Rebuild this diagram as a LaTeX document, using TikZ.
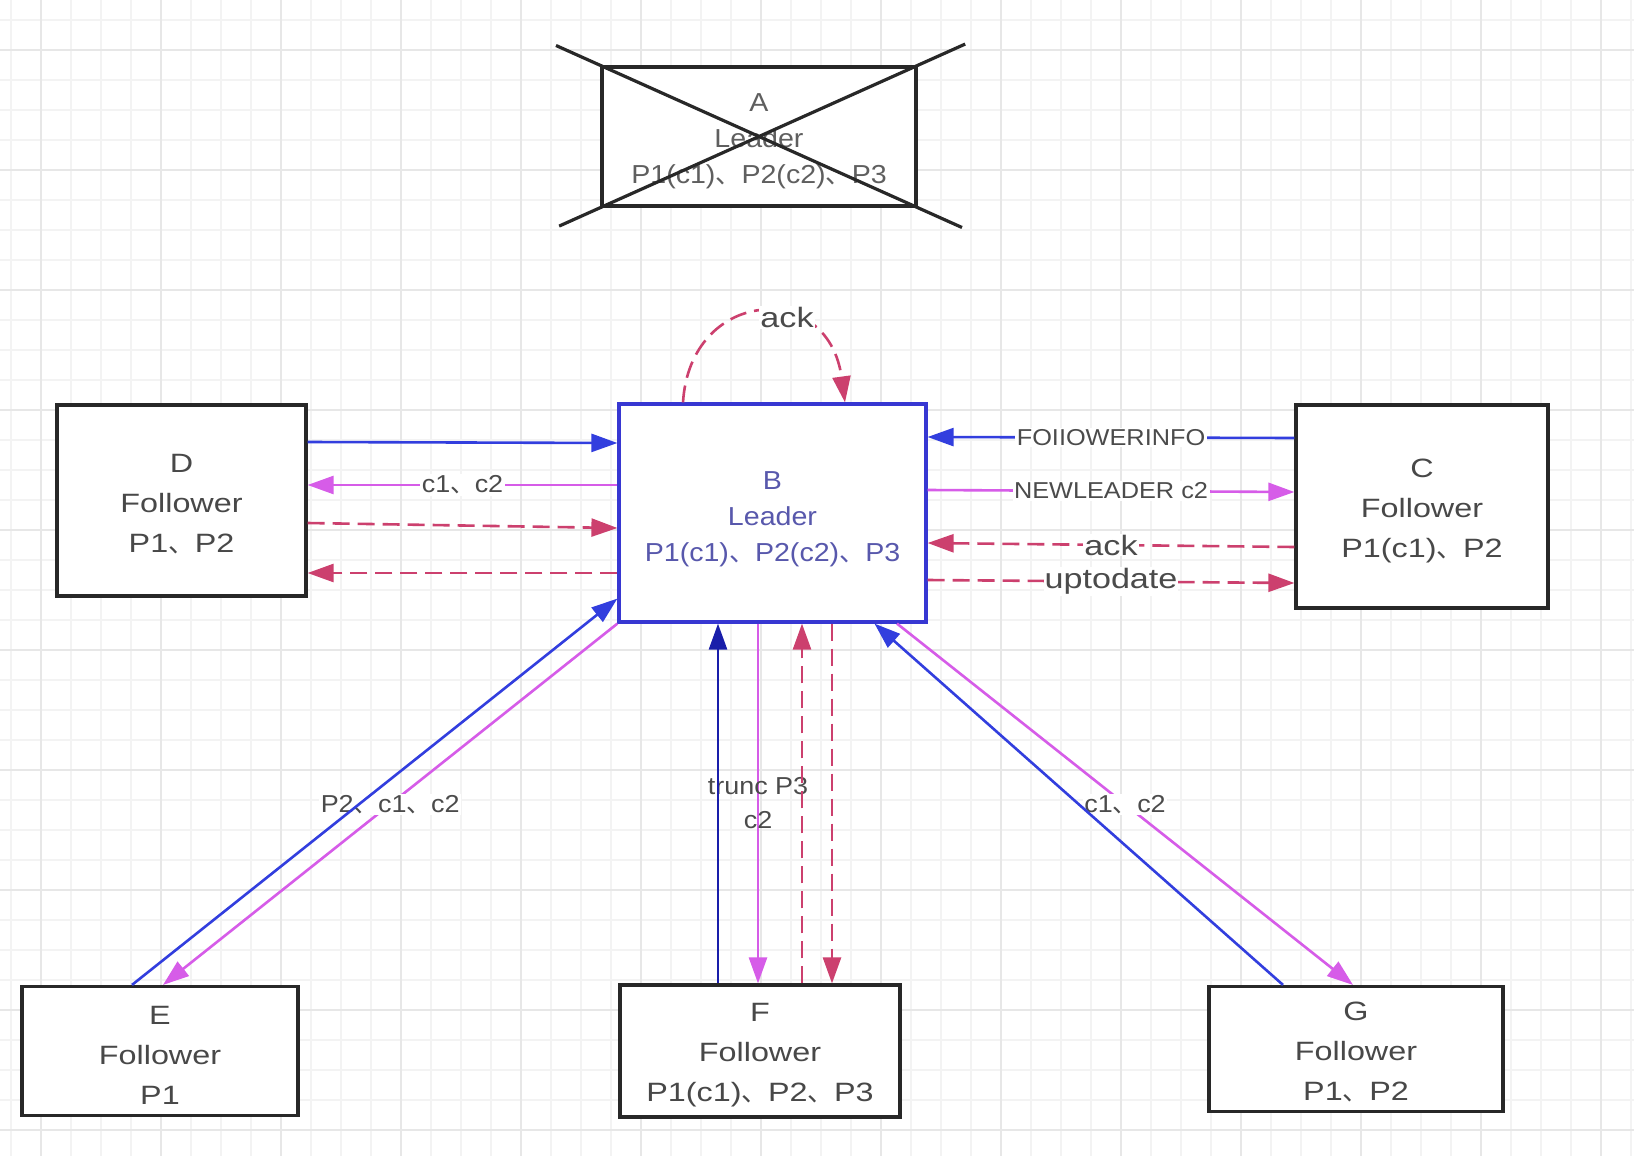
\documentclass[tikz,border=0pt]{standalone}
\usepackage{fontspec}
\setmainfont{Liberation Sans}[FakeStretch=1.1]
\newfontfamily\widefont{Liberation Sans}[FakeStretch=1.22]
\newfontfamily\cjk{Noto Sans CJK SC}
\newcommand{\dn}{{\cjk 、}}
\newcommand{\topstrut}[1]{\rule{0pt}{#1}}
\usetikzlibrary{arrows.meta,calc}
\definecolor{gminor}{RGB}{243,243,243}
\definecolor{gmajor}{RGB}{231,231,231}
\definecolor{boxc}{RGB}{40,40,40}
\definecolor{txtc}{RGB}{72,72,72}
\definecolor{labc}{RGB}{75,75,75}
\definecolor{atxt}{RGB}{95,95,95}
\definecolor{blueA}{RGB}{50,62,222}
\definecolor{navyA}{RGB}{25,30,170}
\definecolor{magC}{RGB}{214,92,232}
\definecolor{redC}{RGB}{204,64,110}
\definecolor{bborder}{RGB}{55,55,210}
\definecolor{btxt}{RGB}{88,88,172}
\tikzset{
  box/.style={draw=boxc, line width=3.2pt, fill=white, text=txtc, align=center,
    inner sep=0pt, font=\widefont\fontsize{26.5}{40}\selectfont},
  lbox/.style={box, font=\fontsize{26}{36}\selectfont},
  elab/.style={fill=white, inner sep=1.5pt, text=labc, align=center,
    font=\fontsize{24.5}{34}\selectfont},
  slab/.style={elab, font=\fontsize{23}{33}\selectfont},
  blab/.style={fill=white, inner sep=1pt, text=labc, font=\widefont\fontsize{28}{32}\selectfont},
  tip/.style={-{Triangle[length=26pt,width=18pt]}},
  solidb/.style={tip, draw=blueA, line width=2.6pt},
  solidn/.style={tip, draw=navyA, line width=2.6pt},
  solidm/.style={tip, draw=magC, line width=2.6pt},
  dashr/.style={tip, draw=redC, line width=2.6pt, dash pattern=on 17pt off 8pt},
  gridmin/.style={draw=gminor, line width=1.2pt},
  gridmaj/.style={draw=gmajor, line width=1.4pt},
}
\begin{document}
\begin{tikzpicture}[x=1pt,y=-1pt]
\useasboundingbox (0,0) rectangle (1634,1156);
\fill[white] (0,0) rectangle (1634,1156);
% grid
\foreach \x in {11,41,...,1631} {\draw[gridmin] (\x,0) -- (\x,1156);}
\foreach \y in {20,50,...,1150} {\draw[gridmin] (0,\y) -- (1634,\y);}
\foreach \x in {41,161,...,1601} {\draw[gridmaj] (\x,0) -- (\x,1156);}
\foreach \y in {50,170,...,1130} {\draw[gridmaj] (0,\y) -- (1634,\y);}

% nodes
\node[lbox, text=atxt, minimum width=314pt, minimum height=139pt] (A) at (759,136.5)
  {\topstrut{27pt}A\\Leader\\P1(c1)\dn P2(c2)\dn P3};
\node[lbox, draw=bborder, text=btxt, minimum width=307pt, minimum height=218pt] (B) at (772.5,513)
  {\topstrut{30pt}B\\Leader\\P1(c1)\dn P2(c2)\dn P3};
\node[box, minimum width=252pt, minimum height=203pt] (C) at (1422,506.5)
  {\topstrut{28pt}C\\Follower\\P1(c1)\dn P2};
\node[box, minimum width=249pt, minimum height=191pt] (D) at (181.5,500.5)
  {\topstrut{26pt}D\\Follower\\P1\dn P2};
\node[box, minimum width=276pt, minimum height=129pt] (E) at (160,1051)
  {\topstrut{27pt}E\\Follower\\P1};
\node[box, minimum width=280pt, minimum height=132pt] (F) at (760,1051)
  {\topstrut{27pt}F\\Follower\\P1(c1)\dn P2\dn P3};
\node[box, minimum width=294pt, minimum height=125pt] (G) at (1356,1049)
  {\topstrut{24pt}G\\Follower\\P1\dn P2};

% crossing out A
\draw[draw=boxc, line width=3.2pt] ($(A.north west)!-0.14!(A.south east)$) -- ($(A.north west)!1.14!(A.south east)$);
\draw[draw=boxc, line width=3.2pt] ($(A.south west)!-0.13!(A.north east)$) -- ($(A.south west)!1.15!(A.north east)$);

% self loop on B
\draw[dashr] ([xshift=-89.5pt]B.north) .. controls +(7,-114) and +(-17,-124) .. ([xshift=72.5pt]B.north)
  node[blab, pos=0.62] {ack};

% D side
\draw[solidm] ([yshift=28pt]B.west) -- node[elab] {c1\dn c2} ([yshift=15.5pt]D.east);
\draw[solidb] ([yshift=58.5pt]D.east) -- ([yshift=70pt]B.west);
\draw[dashr] ([yshift=-22.5pt]D.east) -- ([yshift=-15pt]B.west);
\draw[dashr] ([yshift=-60pt]B.west) -- ([yshift=-72.5pt]D.east);

% C side
\draw[solidb] ([yshift=68.5pt]C.west) -- node[slab] {FOIIOWERINFO} ([yshift=76pt]B.east);
\draw[solidm] ([yshift=23pt]B.east) -- node[slab] {NEWLEADER c2} ([yshift=14.5pt]C.west);
\draw[dashr] ([yshift=-40.5pt]C.west) -- node[blab] {ack} ([yshift=-30pt]B.east);
\draw[dashr] ([yshift=-67pt]B.east) -- node[blab] {uptodate} ([yshift=-76.5pt]C.west);

% E
\draw[solidm] (B.south west) -- node[elab] {P2\dn c1\dn c2} ([xshift=3pt]E.north);
\draw[solidb] ([xshift=-28pt]E.north) -- ([yshift=25pt]B.south west);

% F
\draw[solidm] ([xshift=-14.5pt]B.south) -- node[elab, fill=none] {trunc P3\\c2} ([xshift=-2pt]F.north);
\draw[solidn] ([xshift=-42pt]F.north) -- ([xshift=-54.5pt]B.south);
\draw[dashr] ([xshift=42pt]F.north) -- ([xshift=29.5pt]B.south);
\draw[dashr] ([xshift=59.5pt]B.south) -- ([xshift=72pt]F.north);

% G
\draw[solidm] ([xshift=124.5pt]B.south) -- node[elab] {c1\dn c2} ([xshift=-3pt]G.north);
\draw[solidb] ([xshift=-73pt]G.north) -- ([xshift=102pt]B.south);
\end{tikzpicture}
\end{document}
